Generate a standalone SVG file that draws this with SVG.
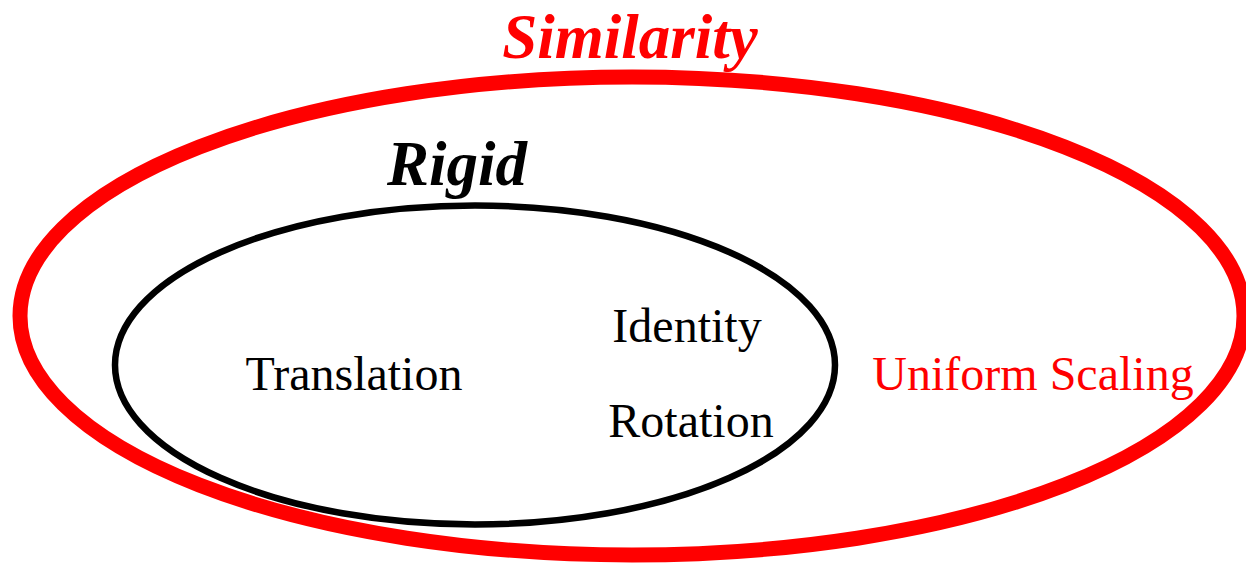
<svg xmlns="http://www.w3.org/2000/svg" width="1246" height="565" viewBox="0 0 1246 565">
<style>
.t{font-family:"Liberation Serif","Times New Roman",serif;font-size:48px}
.h{font-family:"Liberation Serif","Times New Roman",serif;font-size:63px;font-weight:bold;font-style:italic}
</style>
<rect width="1246" height="565" fill="#fff"/>
<g id="similarity">
<ellipse cx="632" cy="316" rx="612" ry="239" fill="none" stroke="#ff0000" stroke-width="15"/>
<text class="h" x="630" y="58" text-anchor="middle" fill="#ff0000">Similarity</text>
<text class="t" x="1033" y="390" text-anchor="middle" fill="#ff0000">Uniform Scaling</text>
</g>
<g id="rigid">
<ellipse cx="475" cy="365" rx="360" ry="159.5" fill="none" stroke="#000" stroke-width="6.5"/>
<text class="h" x="457" y="185" text-anchor="middle" fill="#000">Rigid</text>
</g>
<g id="translation"><text class="t" x="354" y="390" text-anchor="middle">Translation</text></g>
<g id="identity"><text class="t" x="687" y="342" text-anchor="middle">Identity</text></g>
<g id="rotation"><text class="t" x="691" y="437" text-anchor="middle">Rotation</text></g>
<g id="connectors"></g>
</svg>
